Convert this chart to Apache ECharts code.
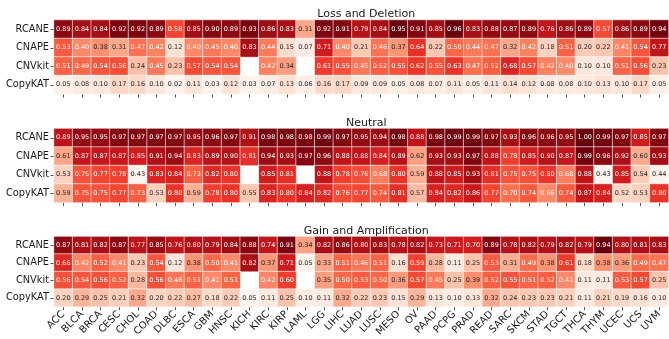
<!DOCTYPE html>
<html><head><meta charset="utf-8">
<script src="https://cdn.jsdelivr.net/npm/echarts@6/dist/echarts.min.js"></script>
<style>html,body{margin:0;padding:0;background:#fff}#c{width:669px;height:339px}</style>
</head><body><div id="c"></div>
<script>
const categories = ['ACC','BLCA','BRCA','CESC','CHOL','COAD','DLBC','ESCA','GBM','HNSC','KICH','KIRC','KIRP','LAML','LGG','LIHC','LUAD','LUSC','MESO','OV','PAAD','PCPG','PRAD','READ','SARC','SKCM','STAD','TGCT','THCA','THYM','UCEC','UCS','UVM'];
const methods = ['RCANE','CNAPE','CNVkit','CopyKAT'];
const panelTitles = ['Loss and Deletion','Neutral','Gain and Amplification'];

const lossRCANE   = [0.89,0.84,0.84,0.92,0.92,0.89,0.58,0.85,0.90,0.89,0.93,0.86,0.83,0.31,0.92,0.91,0.79,0.84,0.95,0.91,0.85,0.96,0.83,0.88,0.87,0.89,0.76,0.86,0.89,0.57,0.86,0.89,0.94];
const lossCNAPE   = [0.53,0.40,0.38,0.31,0.47,0.42,0.12,0.40,0.45,0.40,0.83,0.44,0.15,0.07,0.71,0.40,0.21,0.46,0.37,0.64,0.22,0.50,0.44,0.47,0.32,0.42,0.18,0.51,0.20,0.22,0.41,0.54,0.77];
const lossCNVkit  = [0.51,0.49,0.54,0.56,0.24,0.45,0.23,0.57,0.54,0.54,null,0.42,0.34,null,0.61,0.55,0.45,0.52,0.55,0.62,0.55,0.63,0.47,0.52,0.68,0.57,0.42,0.40,0.10,0.10,0.51,0.56,0.23];
const lossCopyKAT = [0.05,0.08,0.10,0.17,0.16,0.10,0.02,0.11,0.03,0.12,0.03,0.07,0.13,0.06,0.16,0.17,0.09,0.09,0.05,0.08,0.07,0.11,0.05,0.11,0.14,0.12,0.08,0.08,0.10,0.13,0.10,0.17,0.05];

const neuRCANE   = [0.89,0.95,0.95,0.97,0.97,0.97,0.97,0.95,0.96,0.97,0.91,0.98,0.98,0.98,0.99,0.97,0.95,0.94,0.98,0.88,0.98,0.99,0.99,0.97,0.93,0.96,0.96,0.95,1.00,0.99,0.97,0.85,0.97];
const neuCNAPE   = [0.61,0.87,0.87,0.87,0.85,0.91,0.94,0.83,0.89,0.90,0.81,0.94,0.93,0.97,0.96,0.88,0.88,0.84,0.89,0.62,0.93,0.93,0.97,0.88,0.78,0.85,0.90,0.87,0.99,0.96,0.92,0.60,0.93];
const neuCNVkit  = [0.53,0.75,0.77,0.78,0.43,0.83,0.84,0.73,0.82,0.80,null,0.85,0.81,null,0.88,0.78,0.76,0.68,0.80,0.59,0.88,0.85,0.93,0.81,0.75,0.75,0.80,0.68,0.88,0.43,0.85,0.54,0.44];
const neuCopyKAT = [0.59,0.75,0.75,0.77,0.73,0.53,0.80,0.59,0.78,0.80,0.55,0.83,0.80,0.84,0.82,0.76,0.77,0.74,0.81,0.57,0.84,0.82,0.86,0.77,0.70,0.74,0.66,0.74,0.87,0.84,0.52,0.53,0.80];

const gainRCANE   = [0.87,0.81,0.82,0.87,0.77,0.85,0.76,0.80,0.79,0.84,0.88,0.74,0.91,0.34,0.82,0.86,0.80,0.83,0.78,0.82,0.73,0.71,0.70,0.89,0.78,0.82,0.79,0.82,0.79,0.94,0.80,0.81,0.83];
const gainCNAPE   = [0.66,0.42,0.52,0.41,0.23,0.54,0.12,0.38,0.50,0.41,0.82,0.37,0.71,0.05,0.33,0.51,0.46,0.51,0.16,0.59,0.28,0.11,0.25,0.53,0.31,0.49,0.38,0.61,0.18,0.38,0.36,0.49,0.47];
const gainCNVkit  = [0.56,0.54,0.56,0.52,0.28,0.56,0.46,0.51,0.41,0.51,null,0.42,0.60,null,0.35,0.50,0.53,0.50,0.36,0.57,0.45,0.25,0.39,0.52,0.55,0.51,0.52,0.41,0.11,0.11,0.53,0.57,0.25];
const gainCopyKAT = [0.20,0.29,0.25,0.21,0.32,0.20,0.22,0.27,0.18,0.22,0.05,0.11,0.25,0.10,0.11,0.32,0.22,0.23,0.15,0.29,0.13,0.10,0.13,0.32,0.24,0.23,0.23,0.21,0.11,0.21,0.19,0.16,0.10];

const panels = [
  [lossRCANE, lossCNAPE, lossCNVkit, lossCopyKAT],
  [neuRCANE, neuCNAPE, neuCNVkit, neuCopyKAT],
  [gainRCANE, gainCNAPE, gainCNVkit, gainCopyKAT]
];

const reds = ['#fff5f0','#fee0d2','#fcbba1','#fc9272','#fb6a4a','#ef3b2c','#cb181d','#a50f15','#67000d'];
const FONT = 'DejaVu Sans';
const tops = [20, 128.5, 236.5];
const H = 74, LEFT = 54, W = 614.5;

const grid = [], xAxis = [], yAxis = [], series = [], visualMap = [], title = [];
panels.forEach((rows, k) => {
  const vals = rows.flat().filter(v => v !== null);
  const mn = Math.min(...vals), mx = Math.max(...vals);
  const data = [];
  rows.forEach((arr, i) => arr.forEach((v, j) => {
    if (v === null) return;
    const t = (v - mn) / (mx - mn);
    data.push({ value: [j, i, v], label: { color: t > 0.39 ? '#ffffff' : '#262626' } });
  }));
  grid.push({ left: LEFT, top: tops[k], width: W, height: H });
  title.push({ text: panelTitles[k], left: LEFT + W / 2, textAlign: 'center', top: tops[k] - 16,
    textStyle: { fontFamily: FONT, fontSize: 11, fontWeight: 'normal', color: '#1a1a1a' } });
  xAxis.push({ type: 'category', gridIndex: k, data: categories,
    axisLine: { show: false }, splitLine: { show: false },
    axisTick: { show: true, length: 3.5, lineStyle: { color: '#262626', width: 0.8 }, alignWithLabel: true },
    axisLabel: { show: k === 2, rotate: 45, interval: 0, margin: 6, fontFamily: FONT, fontSize: 10, color: '#1a1a1a' } });
  yAxis.push({ type: 'category', gridIndex: k, data: methods, inverse: true,
    axisLine: { show: false }, splitLine: { show: false },
    axisTick: { show: true, length: 3.5, lineStyle: { color: '#262626', width: 0.8 }, alignWithLabel: true },
    axisLabel: { margin: 5, fontFamily: FONT, fontSize: 9.8, color: '#1a1a1a' } });
  visualMap.push({ type: 'continuous', show: false, seriesIndex: k, dimension: 2, min: mn, max: mx, inRange: { color: reds } });
  series.push({ type: 'heatmap', xAxisIndex: k, yAxisIndex: k, data,
    itemStyle: { borderColor: '#ffffff', borderWidth: 0.6 },
    label: { show: true, fontFamily: FONT, fontSize: 6.5, formatter: p => p.value[2].toFixed(2) },
    emphasis: { disabled: true } });
});

const chart = echarts.init(document.getElementById('c'), null, { renderer: 'canvas' });
chart.setOption({ animation: false, backgroundColor: '#ffffff', title, grid, xAxis, yAxis, visualMap, series });
</script></body></html>
